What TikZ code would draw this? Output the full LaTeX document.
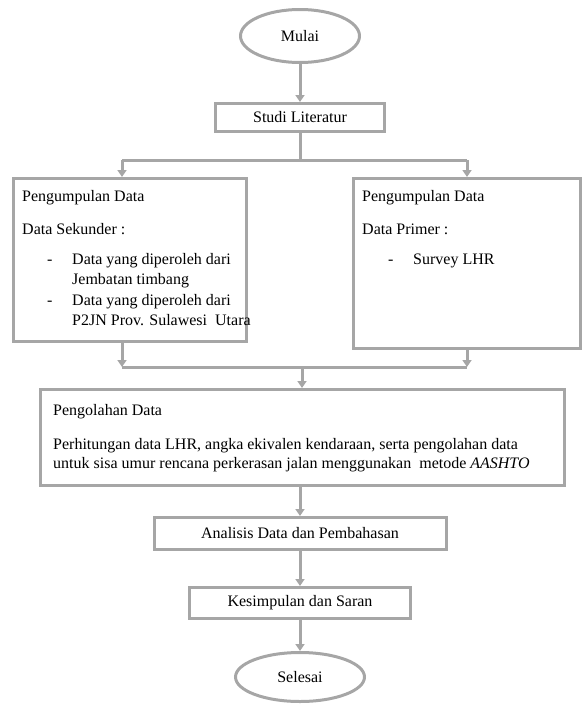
\documentclass[tikz,border=0pt]{standalone}
\usepackage{fontspec}
\setmainfont{Liberation Serif}
\usetikzlibrary{arrows.meta,shapes.geometric}
\definecolor{abu}{RGB}{166,166,166}

\begin{document}
\begin{tikzpicture}[x=1pt,y=-1pt,font=\fontsize{16}{18.4}\selectfont,
    garis/.style={draw=abu,line width=3pt},
    panah/.style={garis,-{Triangle[width=9pt,length=7pt]}},
    kotak/.style={garis,rectangle,inner sep=0pt},
    lonjong/.style={garis,ellipse,inner sep=0pt},
    teks/.style={anchor=base west,inner sep=0pt}] %Diagram alir penelitian
        \useasboundingbox (0,0) rectangle (585,704);

        \node[lonjong,minimum width=119pt,minimum height=53pt] (mulai) at (300,36) {Mulai};
        \node[kotak,minimum width=169pt,minimum height=28pt] (studi) at (300,117.5) {Studi Literatur};
        \node[kotak,minimum width=233pt,minimum height=163pt] (sekunder) at (130,260) {};
        \node[kotak,minimum width=227pt,minimum height=170pt] (primer) at (467,263.5) {};
        \node[kotak,minimum width=524pt,minimum height=96pt] (olah) at (302,437.5) {};
        \node[kotak,minimum width=292pt,minimum height=32pt] (analisis) at (300,533.5) {Analisis Data dan Pembahasan};
        \node[kotak,minimum width=221pt,minimum height=31pt] (simpul) at (300,603) {Kesimpulan dan Saran};
        \node[lonjong,minimum width=129pt,minimum height=49pt] (selesai) at (300,677) {Selesai};

        \node[teks] (sekJudul) at (22,201) {Pengumpulan Data};
        \node[teks] (sekJenis) at (22,234) {Data Sekunder :};
        \node[teks] (sekStrip1) at (47,264) {-};
        \node[teks] (sekIsi1) at (72,264) {Data yang diperoleh dari};
        \node[teks] (sekIsi1b) at (72,284) {Jembatan timbang};
        \node[teks] (sekStrip2) at (47,305) {-};
        \node[teks] (sekIsi2) at (72,305) {Data yang diperoleh dari};
        \node[teks] (sekIsi2b) at (72,325) {P2JN Prov. Sulawesi~ Utara};

        \node[teks] (priJudul) at (362,201) {Pengumpulan Data};
        \node[teks] (priJenis) at (362,234) {Data Primer :};
        \node[teks] (priStrip) at (388,264) {-};
        \node[teks] (priIsi) at (413,264) {Survey LHR};

        \node[teks] (olahJudul) at (53,415) {Pengolahan Data};
        \node[teks] (olahIsi1) at (53,449) {Perhitungan data LHR, angka ekivalen kendaraan, serta pengolahan data};
        \node[teks] (olahIsi2) at (53,468) {untuk sisa umur rencana perkerasan jalan menggunakan~ metode \textit{AASHTO}};

        \coordinate (kiri) at (122,160);
        \coordinate (kanan) at (467,160);
        \coordinate (gabungKiri) at (122,367);
        \coordinate (gabungKanan) at (467,367);
        \coordinate (gabung) at (302,367);

        \draw[panah] (mulai) -- (studi);
        \draw[garis] (studi.south) -- (studi.south |- kiri);
        \draw[garis] (kiri) -- (kanan);
        \draw[panah] (kiri) -- (kiri |- sekunder.north);
        \draw[panah] (kanan) -- (kanan |- primer.north);
        \draw[panah] (sekunder.south -| kiri) -- (gabungKiri);
        \draw[panah] (primer.south -| kanan) -- (gabungKanan);
        \draw[garis] (gabungKiri) -- (gabungKanan);
        \draw[panah] (gabung) -- (gabung |- olah.north);
        \draw[panah] (olah.south -| analisis) -- (analisis);
        \draw[panah] (analisis) -- (simpul);
        \draw[panah] (simpul) -- (selesai);
    \end{tikzpicture}
\end{document}
